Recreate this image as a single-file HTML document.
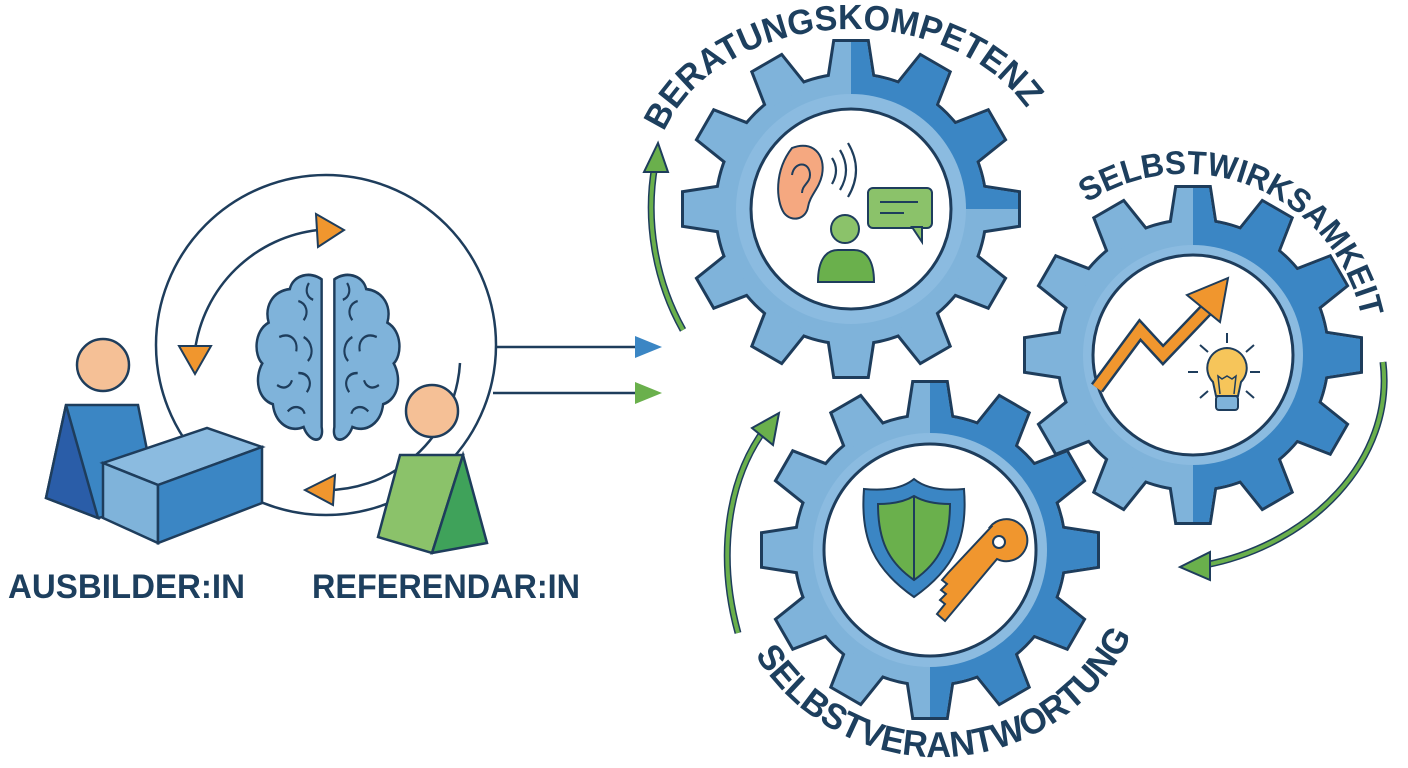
<!DOCTYPE html>
<html><head><meta charset="utf-8"><style>
html,body{margin:0;padding:0;background:#fff;width:1408px;height:768px;overflow:hidden}
svg{display:block}
text{font-family:"Liberation Sans",sans-serif;font-weight:bold;fill:#1d3f5e}
</style></head><body>
<svg width="1408" height="768" viewBox="0 0 1408 768" xmlns="http://www.w3.org/2000/svg">
<defs>
<g id="gear">
<circle r="134"/>
<polygon points="-22,-128 -16,-167 16,-167 22,-128"/>
<polygon transform="rotate(30)" points="-22,-128 -16,-167 16,-167 22,-128"/>
<polygon transform="rotate(60)" points="-22,-128 -16,-167 16,-167 22,-128"/>
<polygon transform="rotate(90)" points="-22,-128 -16,-167 16,-167 22,-128"/>
<polygon transform="rotate(120)" points="-22,-128 -16,-167 16,-167 22,-128"/>
<polygon transform="rotate(150)" points="-22,-128 -16,-167 16,-167 22,-128"/>
<polygon transform="rotate(180)" points="-22,-128 -16,-167 16,-167 22,-128"/>
<polygon transform="rotate(210)" points="-22,-128 -16,-167 16,-167 22,-128"/>
<polygon transform="rotate(240)" points="-22,-128 -16,-167 16,-167 22,-128"/>
<polygon transform="rotate(270)" points="-22,-128 -16,-167 16,-167 22,-128"/>
<polygon transform="rotate(300)" points="-22,-128 -16,-167 16,-167 22,-128"/>
<polygon transform="rotate(330)" points="-22,-128 -16,-167 16,-167 22,-128"/>
</g>
<clipPath id="gc">
<circle r="134"/>
<polygon points="-22,-128 -16,-167 16,-167 22,-128"/>
<polygon transform="rotate(30)" points="-22,-128 -16,-167 16,-167 22,-128"/>
<polygon transform="rotate(60)" points="-22,-128 -16,-167 16,-167 22,-128"/>
<polygon transform="rotate(90)" points="-22,-128 -16,-167 16,-167 22,-128"/>
<polygon transform="rotate(120)" points="-22,-128 -16,-167 16,-167 22,-128"/>
<polygon transform="rotate(150)" points="-22,-128 -16,-167 16,-167 22,-128"/>
<polygon transform="rotate(180)" points="-22,-128 -16,-167 16,-167 22,-128"/>
<polygon transform="rotate(210)" points="-22,-128 -16,-167 16,-167 22,-128"/>
<polygon transform="rotate(240)" points="-22,-128 -16,-167 16,-167 22,-128"/>
<polygon transform="rotate(270)" points="-22,-128 -16,-167 16,-167 22,-128"/>
<polygon transform="rotate(300)" points="-22,-128 -16,-167 16,-167 22,-128"/>
<polygon transform="rotate(330)" points="-22,-128 -16,-167 16,-167 22,-128"/>
</clipPath>
<path id="t1" d="M 664,132 A 198 150 0 0 1 1040,132" fill="none"/>
<path id="t2" d="M 1087,203 A 180 180 0 0 1 1365,345" fill="none"/>
<path id="t3" d="M 755,655 A 215 215 0 0 0 1145,600" fill="none"/>
</defs>

<!-- LEFT: cycle -->
<g fill="none" stroke="#1e3d5c" stroke-width="2.5">
<circle cx="326" cy="345" r="170"/>
<path d="M 195,350 A 140 140 0 0 1 318,230"/>
<path d="M 460,363 A 135 135 0 0 1 318,490"/>
</g>
<polygon points="316,214 344,230 318,247" fill="#f0962e" stroke="#1e3d5c" stroke-width="2"/>
<polygon points="179,346 211,346 195,374" fill="#f0962e" stroke="#1e3d5c" stroke-width="2"/>
<polygon points="305,490 335,475 333,505" fill="#f0962e" stroke="#1e3d5c" stroke-width="2"/>

<!-- brain -->
<g transform="translate(328,355) scale(1.06,1.2) translate(-328,-345)">
<g stroke="#1e3d5c" stroke-width="2.3" fill="#7fb3da">
<path d="M 322,282 C 312,275 295,278 292,290 C 275,292 268,305 272,318 C 258,325 258,345 266,352 C 258,365 262,382 276,386 C 278,402 292,410 305,405 C 310,418 325,420 322,405 Z"/>
<path d="M 334,282 C 344,275 361,278 364,290 C 381,292 388,305 384,318 C 398,325 398,345 390,352 C 398,365 394,382 380,386 C 378,402 364,410 351,405 C 346,418 331,420 334,405 Z"/>
</g>
<g stroke="#1e3d5c" stroke-width="2" fill="none">
<path d="M 300,300 c 8,2 10,10 5,16 M 282,330 c 10,-4 18,2 16,12 M 300,360 c 10,0 14,8 8,16 M 280,370 c 6,4 12,2 14,-4 M 305,330 c 8,4 10,14 4,20 M 310,285 c -4,6 -2,12 4,14 M 290,392 c 6,-6 14,-4 16,2"/>
<path d="M 356,300 c -8,2 -10,10 -5,16 M 374,330 c -10,-4 -18,2 -16,12 M 356,360 c -10,0 -14,8 -8,16 M 376,370 c -6,4 -12,2 -14,-4 M 351,330 c -8,4 -10,14 -4,20 M 346,285 c 4,6 2,12 -4,14 M 366,392 c -6,-6 -14,-4 -16,2"/>
</g>
</g>

<!-- Ausbilder -->
<circle cx="103" cy="365" r="26" fill="#f5c096" stroke="#1e3d5c" stroke-width="2.5"/>
<polygon points="66,405 138,405 158,505 98,518 46,498" fill="#3b86c4" stroke="#1e3d5c" stroke-width="2.5"/>
<polygon points="66,405 98,518 46,498" fill="#2a5da8" stroke="#1e3d5c" stroke-width="2.5"/>
<polygon points="103,463 207,428 262,447 158,485" fill="#8bbbe0" stroke="#1e3d5c" stroke-width="2.5"/>
<polygon points="103,463 158,485 158,543 103,518" fill="#7fb3da" stroke="#1e3d5c" stroke-width="2.5"/>
<polygon points="158,485 262,447 262,503 158,543" fill="#3b86c4" stroke="#1e3d5c" stroke-width="2.5"/>

<!-- Referendar -->
<circle cx="432" cy="411" r="26" fill="#f5c096" stroke="#1e3d5c" stroke-width="2.5"/>
<polygon points="400,455 463,455 432,553 378,537" fill="#8bc26a" stroke="#1e3d5c" stroke-width="2.5"/>
<polygon points="463,455 487,543 432,553" fill="#3fa25a" stroke="#1e3d5c" stroke-width="2.5"/>

<text x="8" y="598" font-size="34" textLength="237" lengthAdjust="spacingAndGlyphs">AUSBILDER:IN</text>
<text x="312" y="598" font-size="34" textLength="268" lengthAdjust="spacingAndGlyphs">REFERENDAR:IN</text>

<!-- arrows to gears -->
<g stroke="#1e3d5c" stroke-width="2.5" fill="none">
<line x1="495" y1="347" x2="640" y2="347"/>
<line x1="493" y1="393" x2="640" y2="393"/>
</g>
<polygon points="635,336 662,347 635,358" fill="#3b86c4"/>
<polygon points="635,382 662,393 635,404" fill="#6ab04c"/>

<!-- GEAR 2 -->
<g transform="translate(1193,355)">
<use href="#gear" fill="#1e3d5c" stroke="#1e3d5c" stroke-width="6"/>
<use href="#gear" fill="#7fb3da"/>
<rect x="0" y="-200" width="200" height="400" fill="#3b86c4" clip-path="url(#gc)"/>
<circle r="110" fill="#8bbbe0"/>
<circle r="100" fill="#fff" stroke="#1e3d5c" stroke-width="3"/>
</g>
<polyline points="1097,388 1140,330 1163,355 1206,310" fill="none" stroke="#1e3d5c" stroke-width="15" stroke-linejoin="miter"/>
<polyline points="1097,388 1140,330 1163,355 1206,310" fill="none" stroke="#f0962e" stroke-width="10" stroke-linejoin="miter"/>
<polygon points="1228,278 1187,295 1220,322" fill="#f0962e" stroke="#1e3d5c" stroke-width="2"/>
<g stroke="#1e3d5c" stroke-width="2" fill="none">
<path d="M 1227,333 v10 M 1188,372 h10 M 1250,372 h10 M 1200,345 l8,7 M 1254,345 l-8,7 M 1200,398 l8,-7 M 1254,398 l-8,-7"/>
</g>
<path d="M 1227,348 a 20 20 0 0 1 14,34 l -3,14 h-22 l-3,-14 a 20 20 0 0 1 14,-34 z" fill="#f6c55a" stroke="#1e3d5c" stroke-width="2"/>
<path d="M 1220,394 l-2,-18 l4,3 l5,-3 l5,3 l4,-3 l-2,18" fill="none" stroke="#1e3d5c" stroke-width="1.5"/>
<rect x="1216" y="396" width="22" height="14" rx="3" fill="#7fb3da" stroke="#1e3d5c" stroke-width="2"/>

<!-- GEAR 1 -->
<g transform="translate(851,209)">
<use href="#gear" fill="#1e3d5c" stroke="#1e3d5c" stroke-width="6"/>
<use href="#gear" fill="#7fb3da"/>
<rect x="0" y="-200" width="200" height="200" fill="#3b86c4" clip-path="url(#gc)"/>
<circle r="115" fill="#8bbbe0"/>
<circle r="100" fill="#fff" stroke="#1e3d5c" stroke-width="3"/>
</g>
<path d="M 792,148 c 20,-8 34,6 30,27 c -3,14 -12,20 -14,32 c -2,12 -16,16 -24,6 c -8,-12 -10,-42 8,-65 z" fill="#f5a880" stroke="#1e3d5c" stroke-width="2"/>
<path d="M 792,175 c 2,-14 18,-14 18,0 c 0,8 -8,10 -8,18" fill="none" stroke="#1e3d5c" stroke-width="2"/>
<g fill="none" stroke="#1e3d5c" stroke-width="2.2">
<path d="M 832,158 q 8,12 0,26 M 840,150 q 12,20 0,40 M 848,143 q 16,27 0,54"/>
</g>
<rect x="868" y="188" width="64" height="40" rx="5" fill="#8bc26a" stroke="#1e3d5c" stroke-width="2"/>
<polygon points="912,227 922,227 922,242" fill="#8bc26a" stroke="#1e3d5c" stroke-width="2"/>
<path d="M 880,202 h38 M 880,213 h24" stroke="#1e3d5c" stroke-width="2"/>
<circle cx="845" cy="229" r="14" fill="#8bc26a" stroke="#1e3d5c" stroke-width="2"/>
<path d="M 818,282 c 0,-22 8,-32 20,-32 h16 c 12,0 20,10 20,32 z" fill="#6ab04c" stroke="#1e3d5c" stroke-width="2"/>

<!-- GEAR 3 -->
<g transform="translate(930,550)">
<use href="#gear" fill="#1e3d5c" stroke="#1e3d5c" stroke-width="6"/>
<use href="#gear" fill="#7fb3da"/>
<rect x="0" y="-200" width="200" height="400" fill="#3b86c4" clip-path="url(#gc)"/>
<circle r="117" fill="#8bbbe0"/>
<circle r="106" fill="#fff" stroke="#1e3d5c" stroke-width="3"/>
</g>
<path d="M 914,479 c 12,10 30,12 50,10 c 4,50 -10,80 -50,108 c -40,-28 -54,-58 -50,-108 c 20,2 38,0 50,-10 z" fill="#3b86c4" stroke="#1e3d5c" stroke-width="2"/>
<path d="M 914,496 c 10,6 24,8 36,8 c 0,36 -10,58 -36,76 c -26,-18 -36,-40 -36,-76 c 12,0 26,-2 36,-8 z" fill="#6ab04c" stroke="#1e3d5c" stroke-width="2"/>
<line x1="914" y1="496" x2="914" y2="580" stroke="#1e3d5c" stroke-width="2"/>
<path d="M 990,527 a 21 21 0 1 1 7,32 l -52,62 l -8,-7 l 8,-10 l -5,-4 l 6,-6 l -5,-4 l 6,-6 l -5,-4 l 6,-7 l 43,-46 a 21 21 0 0 1 -1,0 z" fill="#f0962e" stroke="#1e3d5c" stroke-width="2"/>
<circle cx="999" cy="542" r="6" fill="#fff" stroke="#1e3d5c" stroke-width="2"/>

<!-- green curved arrows -->
<g fill="none" stroke="#1e3d5c" stroke-width="7">
<path d="M 683,330 C 655,280 645,220 655,165"/>
<path d="M 738,633 C 718,560 725,480 768,425"/>
<path d="M 1383,362 C 1395,460 1310,545 1205,565"/>
</g>
<g fill="none" stroke="#6ab04c" stroke-width="4">
<path d="M 683,330 C 655,280 645,220 655,165"/>
<path d="M 738,633 C 718,560 725,480 768,425"/>
<path d="M 1383,362 C 1395,460 1310,545 1205,565"/>
</g>
<polygon points="658,143 644,172 668,172" fill="#6ab04c" stroke="#1e3d5c" stroke-width="2"/>
<polygon points="779,413 752,428 773,445" fill="#6ab04c" stroke="#1e3d5c" stroke-width="2"/>
<polygon points="1180,567 1210,552 1210,580" fill="#6ab04c" stroke="#1e3d5c" stroke-width="2"/>

<!-- curved titles -->
<text font-size="35"><textPath href="#t1" textLength="425" lengthAdjust="spacingAndGlyphs">BERATUNGSKOMPETENZ</textPath></text>
<text font-size="33"><textPath href="#t2" textLength="350" lengthAdjust="spacingAndGlyphs">SELBSTWIRKSAMKEIT</textPath></text>
<text font-size="36"><textPath href="#t3" textLength="460" lengthAdjust="spacingAndGlyphs">SELBSTVERANTWORTUNG</textPath></text>
</svg>
</body></html>
